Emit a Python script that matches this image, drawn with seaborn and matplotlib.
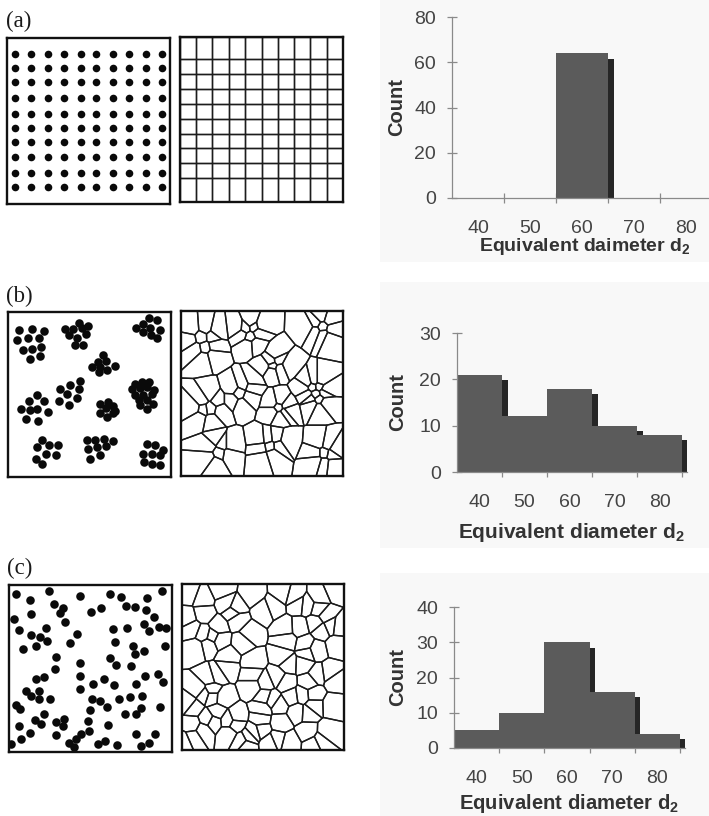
import numpy as np
import pandas as pd
import matplotlib
matplotlib.use("Agg")
import matplotlib.pyplot as plt
from matplotlib.patches import Rectangle
from matplotlib.transforms import blended_transform_factory
import seaborn as sns

# ---------------- data ----------------
# (a) regular arrangement, positions in a 0-100 frame (y measured downward)
grid_x = [4.7, 14.5, 25.2, 34.8, 45.1, 54.9, 65.2, 75.0, 85.0, 94.9]
grid_y = [9.4, 17.8, 26.5, 36.1, 45.5, 54.1, 62.9, 71.9, 81.2, 90.0]

# (b) clustered arrangement
clustered_x = [6.8, 15.0, 22.0, 5.5, 12.5, 19.1, 9.2, 14.8, 20.5, 13.8, 19.9,
               43.3, 34.9, 39.6, 45.2, 49.3, 37.6, 42.5, 47.8, 41.1, 46.2,
               86.6, 91.4, 83.1, 78.4, 87.3, 93.0, 82.7, 87.7, 91.4,
               58.5, 55.4, 60.2, 51.5, 56.5, 61.0, 65.7, 56.0,
               44.1, 38.0, 31.8, 43.7, 35.9, 42.1, 31.4, 37.6,
               17.9, 12.9, 22.2, 8.0, 13.8, 17.9, 24.6, 11.3, 18.7,
               56.5, 61.2, 64.7, 60.2, 65.7, 56.5, 64.3, 61.0,
               78.0, 82.1, 86.2, 76.0, 81.1, 85.2, 89.3, 78.0, 83.1, 88.3, 80.1, 85.2, 88.9, 81.1, 85.2,
               21.1, 17.5, 25.3, 30.8, 23.6, 29.4, 17.0, 21.1,
               48.7, 53.4, 58.9, 64.7, 49.3, 54.8, 60.2, 50.3, 56.5,
               85.2, 90.3, 95.1, 83.1, 88.3, 93.0, 83.6, 88.3, 93.4]
clustered_y = [10.7, 10.1, 11.7, 17.2, 15.8, 15.6, 23.2, 22.2, 21.2, 28.3, 26.7,
               6.5, 10.1, 10.5, 9.7, 8.7, 14.1, 15.6, 13.1, 20.2, 19.8,
               3.6, 5.1, 7.1, 9.7, 9.5, 11.1, 12.1, 14.1, 15.8,
               26.1, 30.3, 29.9, 33.3, 33.3, 34.9, 32.9, 36.3,
               41.8, 44.4, 46.5, 46.5, 49.5, 51.9, 53.9, 56.6,
               50.5, 53.9, 53.9, 58.6, 59.6, 59.0, 60.6, 64.6, 66.1,
               55.6, 54.5, 57.2, 58.2, 60.0, 61.2, 61.2, 63.6,
               43.4, 42.4, 42.4, 46.5, 45.9, 45.5, 47.5, 50.5, 50.5, 49.5, 53.1, 53.5, 55.6, 56.6, 58.6,
               77.8, 81.8, 80.8, 80.8, 85.9, 86.9, 88.9, 91.9,
               77.8, 77.4, 76.8, 78.2, 82.8, 81.8, 81.4, 88.9, 86.9,
               79.8, 80.8, 83.8, 85.9, 85.9, 86.9, 90.9, 92.3, 92.9]

# (c) random arrangement
random_x = [4.1, 24.3, 43.4, 62.2, 68.9, 84.9, 93.9,
            13.1, 27.4, 33.1, 31.1, 50.5, 56.6, 71.6, 77.1, 84.3, 88.8,
            13.7, 2.9, 34.2, 82.6, 91.8, 96.5,
            6.1, 22.5, 63.8, 72.4, 85.9,
            13.3, 18.8, 23.5, 41.7, 37.2, 64.8,
            8.6, 16.4, 76.1, 95.5, 77.1, 82.6,
            28.6, 62.2, 65.8, 43.8, 75.1,
            28.0,
            16.8, 21.3, 43.4, 51.5, 58.3, 64.2, 78.1, 83.2, 91.4, 94.5,
            10.2, 13.7, 18.4, 18.4, 25.4, 43.4, 50.9, 55.6, 60.1, 67.5, 74.4, 81.4,
            4.1, 7.0, 49.5, 81.2, 92.8,
            21.5, 71.0, 78.1,
            15.7, 19.4, 28.6, 33.5, 33.1, 48.5, 60.7,
            6.1, 13.1, 28.6, 49.1, 44.4, 41.3, 77.7, 89.4,
            1.4, 7.2, 36.8, 39.7, 54.6, 58.7, 66.3, 81.2, 85.7]
random_y = [5.6, 3.6, 6.4, 5.6, 7.4, 7.6, 3.6,
            9.0, 11.6, 14.0, 17.0, 16.0, 13.6, 12.4, 13.0, 15.0, 19.0,
            17.6, 20.4, 22.0, 23.6, 25.0, 25.6,
            27.2, 25.6, 26.4, 26.0, 27.6,
            30.0, 31.4, 33.6, 29.6, 35.0, 34.0,
            38.4, 36.6, 36.4, 36.6, 41.6, 39.6,
            43.4, 43.6, 48.0, 47.0, 48.4,
            50.4,
            56.4, 55.0, 54.4, 59.0, 56.0, 59.6, 59.0, 54.6, 53.4, 58.0,
            63.4, 66.4, 63.6, 68.0, 68.4, 62.0, 68.0, 69.6, 72.8, 68.0, 67.0, 66.4,
            72.0, 74.4, 75.0, 73.4, 73.0,
            77.0, 77.0, 77.4,
            81.0, 83.0, 82.0, 80.0, 84.4, 81.6, 83.6,
            84.6, 88.4, 90.0, 87.6, 89.0, 92.0, 89.0, 89.4,
            95.0, 92.4, 94.4, 97.0, 95.4, 93.6, 95.6, 96.6, 94.4]

# histograms
bin_labels = [40, 50, 60, 70, 80]
bin_edges = [35, 45, 55, 65, 75, 85]
counts_a = [0, 0, 64, 0, 0]
counts_b = [21, 12, 18, 10, 8]
counts_c = [5, 10, 30, 16, 4]
yticks_a = [0, 20, 40, 60, 80]
yticks_b = [0, 10, 20, 30]
yticks_c = [0, 10, 20, 30, 40]
xlabel_a = "Equivalent daimeter d$_2$"
xlabel_b = "Equivalent diameter d$_2$"
xlabel_c = "Equivalent diameter d$_2$"
ylabel_text = "Count"
panel_labels = ["(a)", "(b)", "(c)"]

# ---------------- style ----------------
sns.set_theme(style="white")
plt.rcParams['font.family'] = ['Liberation Sans', 'DejaVu Sans']
plt.rcParams['mathtext.default'] = 'regular'

W, H = 709, 816
fig = plt.figure(figsize=(W / 100, H / 100), dpi=100, facecolor='white')


def px_axes(l, t, r, b):
    return fig.add_axes([l / W, 1 - b / H, (r - l) / W, (b - t) / H])


def bg_rect(l, t, r, b, color='#f8f8f8'):
    fig.add_artist(Rectangle((l / W, 1 - b / H), (r - l) / W, (b - t) / H,
                             transform=fig.transFigure, facecolor=color,
                             edgecolor='none', zorder=-5))


def frame(ax):
    ax.set_xlim(0, 100)
    ax.set_ylim(100, 0)
    ax.set_xticks([])
    ax.set_yticks([])
    ax.set_xlabel('')
    ax.set_ylabel('')
    ax.set_facecolor('white')
    for sp in ax.spines.values():
        sp.set_visible(True)
        sp.set_color('#111111')
        sp.set_linewidth(1.7)


def clip(poly, n, c):
    out = []
    m = len(poly)
    for k in range(m):
        P = poly[k]
        Q = poly[(k + 1) % m]
        dp = n @ P - c
        dq = n @ Q - c
        if dp <= 0:
            out.append(P)
        if dp * dq < 0:
            t = dp / (dp - dq)
            out.append(P + t * (Q - P))
    return out


def voronoi_cells(xs, ys):
    pts = np.column_stack([xs, ys]).astype(float)
    box = [np.array(v, float) for v in [(0, 0), (100, 0), (100, 100), (0, 100)]]
    rows = []
    for i, p in enumerate(pts):
        poly = box
        for j, q in enumerate(pts):
            if i == j:
                continue
            n = q - p
            if not n.any():
                continue
            c = n @ (p + q) / 2
            poly = clip(poly, n, c)
            if not poly:
                break
        if not poly:
            continue
        for k, v in enumerate(poly + poly[:1]):
            rows.append((i, k, v[0], v[1]))
    return pd.DataFrame(rows, columns=['cell', 'order', 'x', 'y'])


def draw_points(ax, xs, ys, s):
    sns.scatterplot(x=list(xs), y=list(ys), color='#0a0a0a', s=s, linewidth=0, ax=ax, legend=False)
    frame(ax)


def draw_voronoi(ax, xs, ys):
    df = voronoi_cells(xs, ys)
    sns.lineplot(data=df, x='x', y='y', units='cell', estimator=None, sort=False,
                 color='#1c1c1c', linewidth=1.0, ax=ax, legend=False)
    frame(ax)


def draw_hist(geom, counts, yticks, xlabel, xlabel_size, xlabel_top, ylabel_right):
    x0, y0, ytop, ppu = geom
    xmax = 86.2
    right = x0 + (xmax - 35) * ppu
    ax = px_axes(x0, ytop, right, y0)
    ax.set_facecolor('none')
    ymax = yticks[-1]
    shift = 5.5 / ppu
    drop = 5.5 * ymax / (y0 - ytop)
    df = pd.DataFrame({'d': np.asarray(bin_labels, float),
                       'count': np.asarray(counts, float)})
    df['d_shadow'] = df['d'] + shift
    df['count_shadow'] = (df['count'] - drop).clip(lower=0)
    edges = [float(e) for e in bin_edges]
    sns.histplot(data=df, x='d_shadow', weights='count_shadow',
                 bins=[e + shift for e in edges],
                 color='#262626', alpha=1, linewidth=0, ax=ax, zorder=1)
    sns.histplot(data=df, x='d', weights='count', bins=edges, color='#5b5b5b', alpha=1,
                 linewidth=0, ax=ax, zorder=2)
    ax.set_xlim(35, xmax)
    ax.set_ylim(0, ymax)
    ax.set_yticks(yticks)
    ax.set_xticks(bin_labels)
    ax.set_xticks(bin_edges[1:], minor=True)
    ax.tick_params(axis='x', which='major', length=0, pad=16, labelsize=14,
                   labelcolor='#444444')
    ax.tick_params(axis='x', which='minor', direction='inout', length=7, width=0.9,
                   color='#8a8a8a', bottom=True)
    ax.tick_params(axis='y', direction='inout', length=7, width=0.9, color='#8a8a8a',
                   pad=8, labelsize=14, labelcolor='#444444', left=True)
    for side in ['top', 'right']:
        ax.spines[side].set_visible(False)
    for side in ['left', 'bottom']:
        ax.spines[side].set_visible(True)
        ax.spines[side].set_color('#8a8a8a')
        ax.spines[side].set_linewidth(0.9)
    ax.set_xlabel(xlabel, fontsize=xlabel_size, fontweight='bold', color='#333333')
    ax.set_ylabel(ylabel_text, fontsize=14.5, fontweight='bold', color='#333333')
    ax.xaxis.set_label_coords(60.5, -(xlabel_top - y0) / (y0 - ytop),
                              transform=blended_transform_factory(ax.transData, ax.transAxes))
    ax.yaxis.set_label_coords((ylabel_right - x0) / (right - x0), 0.5)
    return ax


# light scan-like background behind the histograms
bg_rect(380, 0, 709, 262)
bg_rect(380, 282, 709, 548)
bg_rect(380, 573, 709, 816)

# ---------------- row (a) ----------------
gx, gy = np.meshgrid(grid_x, grid_y)
ax = px_axes(7, 38, 170, 204)
draw_points(ax, gx.ravel(), gy.ravel(), 30)
ax = px_axes(180, 37, 343, 202)
draw_voronoi(ax, gx.ravel(), gy.ravel())
draw_hist((452, 198, 17, 5.2), counts_a, yticks_a, xlabel_a, 14, 236, 406)

# ---------------- row (b) ----------------
ax = px_axes(8, 312, 171, 477)
draw_points(ax, clustered_x, clustered_y, 38)
ax = px_axes(181, 311, 343, 476)
draw_voronoi(ax, clustered_x, clustered_y)
draw_hist((457, 472, 333, 4.5), counts_b, yticks_b, xlabel_b, 15, 521.5, 407)

# ---------------- row (c) ----------------
ax = px_axes(9, 585, 172, 752)
draw_points(ax, random_x, random_y, 38)
ax = px_axes(182, 584, 344, 750)
draw_voronoi(ax, random_x, random_y)
draw_hist((454, 748, 607, 4.52), counts_c, yticks_c, xlabel_c, 14.6, 792, 407)

# panel labels
for lab, (lx, ly) in zip(panel_labels, [(6, 27), (6, 302), (7, 574)]):
    fig.text(lx / W, 1 - ly / H, lab, fontsize=16.5, family=['Liberation Serif', 'DejaVu Serif'],
             color='#1a1a1a', ha='left', va='baseline')

fig.savefig('out.png', dpi=100, facecolor=fig.get_facecolor())
